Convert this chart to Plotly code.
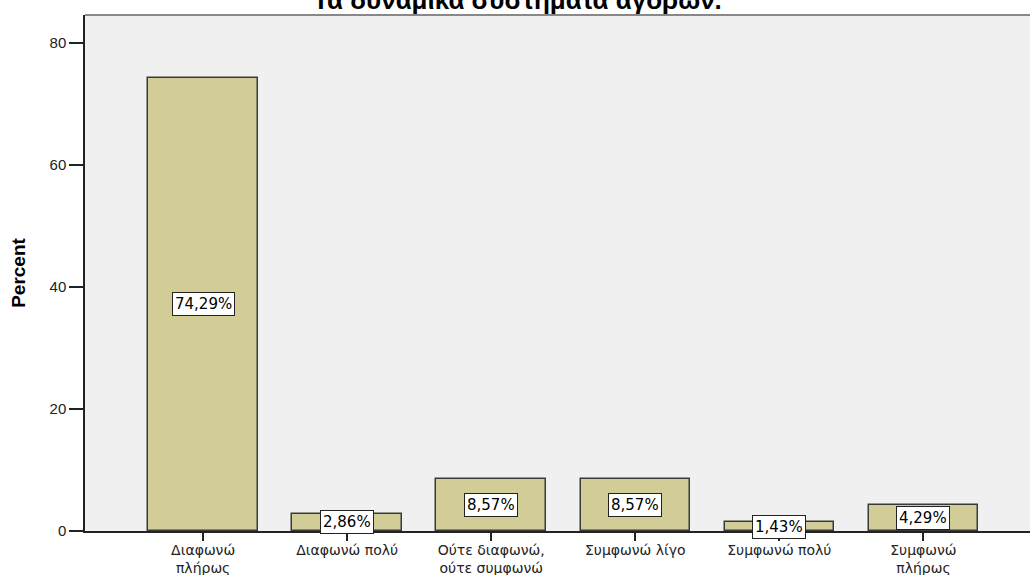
import plotly.graph_objects as go

# Chart data
categories = ["Διαφωνώ<br>πλήρως", "Διαφωνώ πολύ", "Ούτε διαφωνώ,<br>ούτε συμφωνώ",
              "Συμφωνώ λίγο", "Συμφωνώ πολύ", "Συμφωνώ<br>πλήρως"]
percent = [74.29, 2.86, 8.57, 8.57, 1.43, 4.29]
bar_labels = ["74,29%", "2,86%", "8,57%", "8,57%", "1,43%", "4,29%"]
y_ticks = [0, 20, 40, 60, 80]

FONT = "Liberation Sans, Arial, sans-serif"
WIDE = "DejaVu Sans, Verdana, sans-serif"
xpos = list(range(len(categories)))

fig = go.Figure()
fig.add_trace(go.Bar(
    x=xpos, y=percent, width=0.76,
    marker=dict(color="#D2CD97", line=dict(color="#3a3a3a", width=1.5)),
    hoverinfo="skip", showlegend=False,
))

# value labels in the middle of each bar
for x, v, t in zip(xpos, percent, bar_labels):
    fig.add_annotation(x=x, y=v / 2, text=t, showarrow=False,
                       font=dict(family=WIDE, size=15, color="black"),
                       bgcolor="white", bordercolor="#222", borderwidth=1, borderpad=2)

# top border of the plot area
fig.add_shape(type="line", xref="paper", yref="paper", x0=0, x1=1, y0=1, y1=1,
              line=dict(color="#888", width=2))

fig.update_layout(
    width=1030, height=575,
    margin=dict(l=85, r=0, t=15, b=44, autoexpand=False),
    paper_bgcolor="white", plot_bgcolor="#F0F0F0",
    bargap=0,
    title=dict(text="<b>Τα δυναμικά συστήματα αγορών.</b>", x=0.5024, xanchor="center",
               y=1.0, yanchor="middle", font=dict(family=FONT, size=26, color="black")),
    font=dict(family=FONT, color="#222"),
)
fig.update_xaxes(
    range=[-0.82, 5.74], tickmode="array", tickvals=xpos, ticktext=categories,
    ticks="outside", ticklen=8, tickcolor="#222", tickwidth=1.5, ticklabelstandoff=-3,
    showline=True, linecolor="#222", linewidth=1.5, showgrid=False, zeroline=False,
    tickfont=dict(family=WIDE, size=14, color="#222"), automargin=False,
)
fig.update_yaxes(
    range=[0, 84.6], tickvals=y_ticks,
    ticks="outside", ticklen=14, tickcolor="#222", tickwidth=1.5,
    showline=True, linecolor="#222", linewidth=1.5, showgrid=False, zeroline=False,
    tickfont=dict(family=FONT, size=15, color="#222"), automargin=False,
    title=dict(text="<b>Percent</b>", font=dict(family=FONT, size=19, color="black"), standoff=19),
)

fig.write_html("out.html", config={"displayModeBar": False},
               post_script="document.body.style.margin='0';")
